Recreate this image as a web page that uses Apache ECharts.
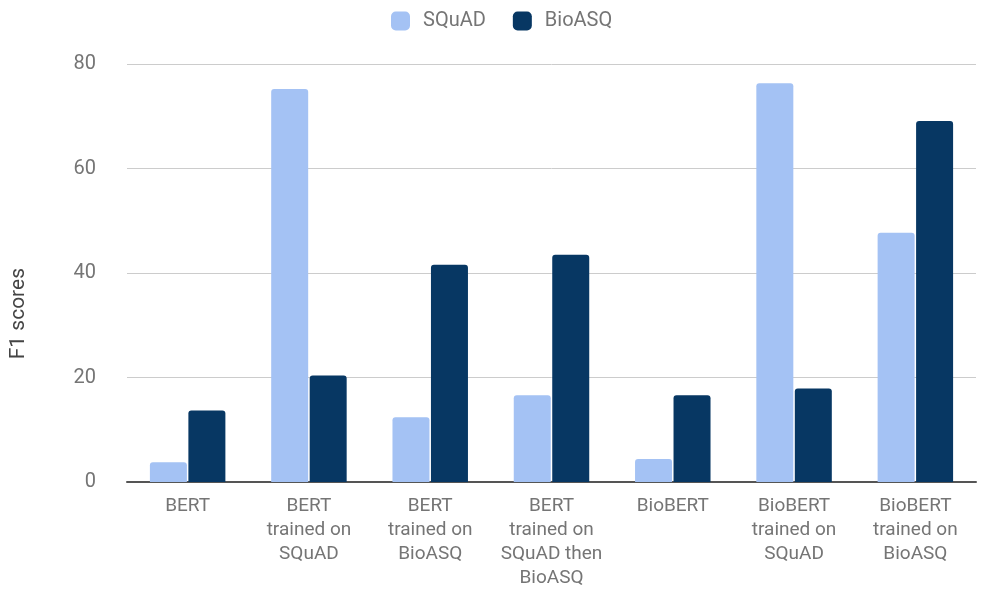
<!DOCTYPE html>
<html>
<head>
<meta charset="utf-8">
<script src="https://cdn.jsdelivr.net/npm/echarts@6/dist/echarts.min.js"></script>
<style>
  html, body { margin: 0; padding: 0; background: #fff; }
  #chart { width: 990px; height: 590px; }
</style>
</head>
<body>
<div id="chart"></div>
<script>
const categories = [
  'BERT',
  'BERT\ntrained on\nSQuAD',
  'BERT\ntrained on\nBioASQ',
  'BERT\ntrained on\nSQuAD then\nBioASQ',
  'BioBERT',
  'BioBERT\ntrained on\nSQuAD',
  'BioBERT\ntrained on\nBioASQ'
]
const squadScores = [3.8, 75.2, 12.4, 16.6, 4.4, 76.3, 47.7]
const bioasqScores = [13.7, 20.4, 41.6, 43.5, 16.6, 17.9, 69.1]
const yTicks = [0, 20, 40, 60, 80]

const chart = echarts.init(document.getElementById('chart'))

const option = {
  textStyle: { fontFamily: 'Roboto' },
  legend: {
    top: 6,
    left: 386,
    itemWidth: 19,
    itemHeight: 19,
    itemGap: 27,
    icon: 'roundRect',
    textStyle: { color: '#757575', fontSize: 20, fontFamily: 'Roboto', padding: [0, 0, 0, 8] },
    data: ['SQuAD', 'BioASQ']
  },
  graphic: [{
    type: 'text',
    left: 8,
    top: 268,
    rotation: Math.PI / 2,
    style: { text: 'F1 scores', fill: '#444', fontSize: 21, fontFamily: 'Roboto' }
  }],
  grid: {
    left: 127,
    right: 14,
    top: 64,
    bottom: 107
  },
  xAxis: {
    type: 'category',
    data: categories,
    axisTick: { show: false },
    axisLine: { lineStyle: { color: '#555', width: 2 } },
    axisLabel: {
      color: '#757575',
      fontSize: 19,
      lineHeight: 24,
      margin: 12,
      interval: 0
    }
  },
  yAxis: {
    type: 'value',
    min: yTicks[0],
    max: yTicks[yTicks.length - 1],
    interval: 20,
    axisLine: { show: false },
    axisTick: { show: false },
    axisLabel: { color: '#757575', fontSize: 20, margin: 31 },
    splitLine: { lineStyle: { color: '#cccccc' } }
  },
  series: [
    {
      name: 'SQuAD',
      type: 'bar',
      data: squadScores,
      barWidth: 37,
      barGap: '4%',
      itemStyle: { color: '#a4c2f4', borderRadius: [3, 3, 0, 0] }
    },
    {
      name: 'BioASQ',
      type: 'bar',
      data: bioasqScores,
      barWidth: 37,
      itemStyle: { color: '#073763', borderRadius: [3, 3, 0, 0] }
    }
  ]
}

chart.setOption(option)
</script>
</body>
</html>
